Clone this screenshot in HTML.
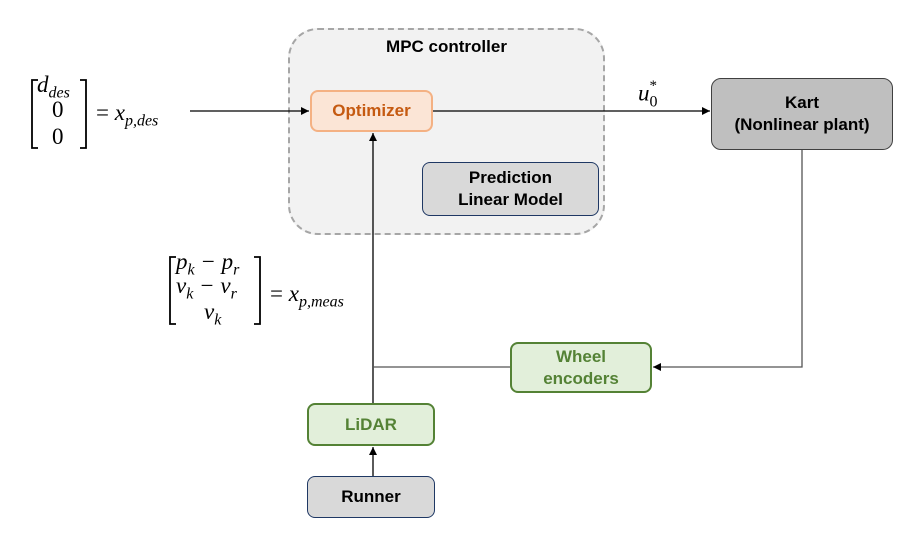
<!DOCTYPE html>
<html><head><style>
body{margin:0;width:916px;height:547px;background:#fff;overflow:hidden;position:relative;font-family:"Liberation Sans",sans-serif}
.b{position:absolute;box-sizing:border-box;display:flex;align-items:center;justify-content:center;text-align:center;font-weight:bold;font-size:17px;border-radius:8px;line-height:22px}
.m{position:absolute;font-family:"Liberation Serif",serif;font-style:italic;font-size:23px;white-space:nowrap}
.m sub{font-size:16px}
</style></head><body>
<div style="position:absolute;left:288px;top:28px;width:317px;height:207px;box-sizing:border-box;border:2px dashed #a6a6a6;border-radius:30px;background:#f2f2f2"></div>
<div style="position:absolute;left:288px;top:37px;width:317px;text-align:center;font-weight:bold;font-size:17px">MPC controller</div>
<div class="b" style="left:310px;top:90px;width:123px;height:42px;background:#fbe5d6;border:2px solid #f4b183;color:#c55a11">Optimizer</div>
<div class="b" style="left:422px;top:162px;width:177px;height:54px;background:#d9d9d9;border:1px solid #1f3864;font-weight:bold">Prediction<br>Linear Model</div>
<div class="b" style="left:711px;top:78px;width:182px;height:72px;background:#bfbfbf;border:1px solid #404040;border-radius:10px">Kart<br>(Nonlinear plant)</div>
<div class="b" style="left:510px;top:342px;width:142px;height:51px;background:#e2efda;border:2px solid #548235;color:#548235">Wheel<br>encoders</div>
<div class="b" style="left:307px;top:403px;width:128px;height:43px;background:#e2efda;border:2px solid #548235;color:#548235">LiDAR</div>
<div class="b" style="left:307px;top:476px;width:128px;height:42px;background:#d9d9d9;border:1px solid #1f3864">Runner</div>
<svg style="position:absolute;left:0;top:0" width="916" height="547">
<defs><marker id="a" markerWidth="8" markerHeight="8" refX="8" refY="4" orient="auto" markerUnits="userSpaceOnUse"><path d="M0,0 L8,4 L0,8z" fill="#000"/></marker></defs>
<g stroke="#000" stroke-width="1.3" fill="none">
<line x1="190" y1="111" x2="309" y2="111" marker-end="url(#a)"/>
<line x1="433" y1="111" x2="710" y2="111" marker-end="url(#a)"/>
<line x1="373" y1="403" x2="373" y2="133" marker-end="url(#a)"/>
<line x1="373" y1="476" x2="373" y2="447" marker-end="url(#a)"/>
<line x1="373" y1="367" x2="510" y2="367" stroke="#555"/>
<polyline points="802,150 802,367 653,367" stroke="#555" marker-end="url(#a)"/>
<path d="M38,80 H32 V148 H38 M80,80 H86 V148 H80" stroke-width="1.8"/>
<path d="M176,257 H170 V324 H176 M254,257 H260 V324 H254" stroke-width="1.8"/>
</g>
</svg>
<div class="m" style="left:37px;top:72px">d<sub>des</sub></div>
<div class="m" style="left:52px;top:97px;font-style:normal">0</div>
<div class="m" style="left:52px;top:124px;font-style:normal">0</div>
<div class="m" style="left:96px;top:100px"><span style="font-style:normal">=</span> x<sub>p,des</sub></div>
<div class="m" style="left:176px;top:249px">p<sub>k</sub> − p<sub>r</sub></div>
<div class="m" style="left:176px;top:273px">v<sub>k</sub> − v<sub>r</sub></div>
<div class="m" style="left:204px;top:299px">v<sub>k</sub></div>
<div class="m" style="left:270px;top:281px"><span style="font-style:normal">=</span> x<sub>p,meas</sub></div>
<div class="m" style="left:638px;top:80px">u<sub style="font-style:normal">0</sub><sup style="font-size:15px;font-style:normal;margin-left:-8px;position:relative;top:-2px">*</sup></div>
</body></html>
